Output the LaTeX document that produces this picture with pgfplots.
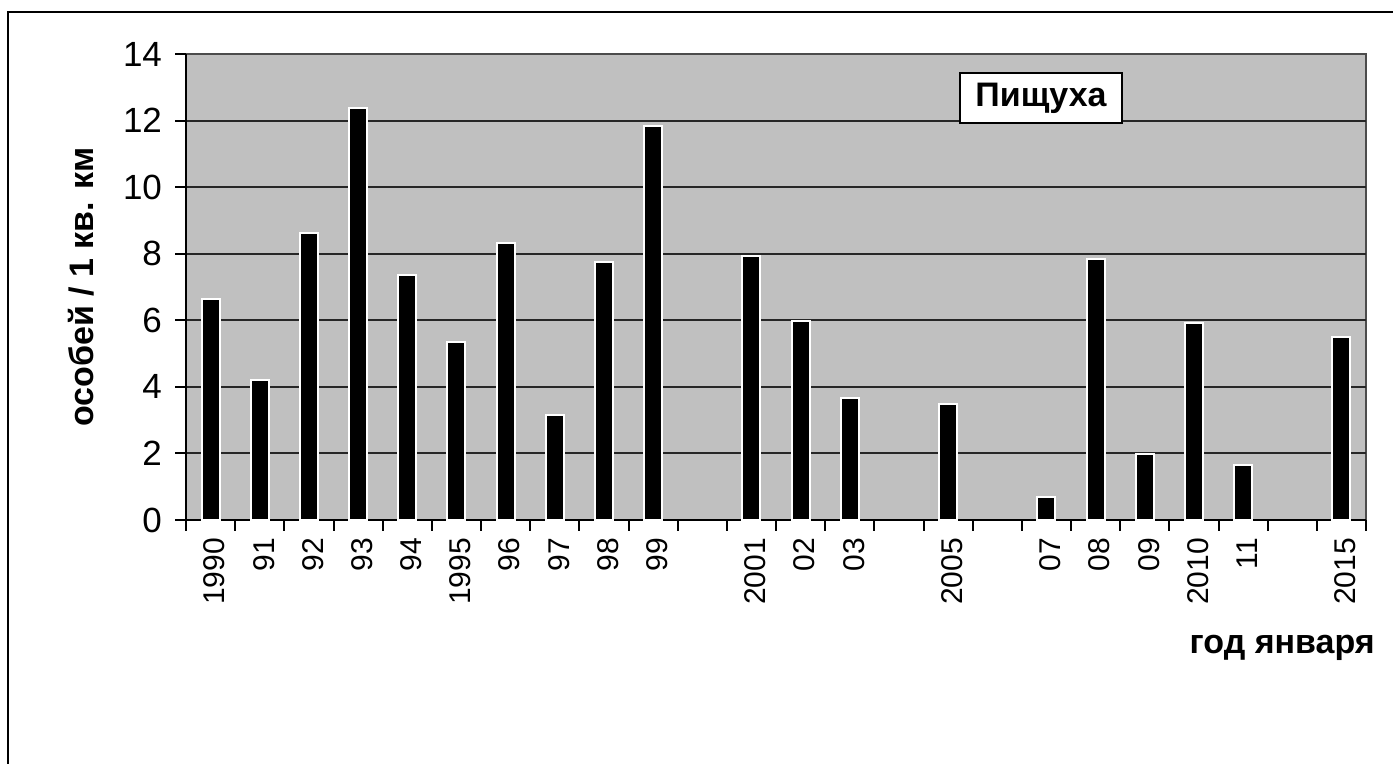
\documentclass[border=0pt]{standalone}
\usepackage{fontspec}
\setmainfont{Liberation Sans}
\usepackage{pgfplots}
\pgfplotsset{compat=1.18}
\definecolor{plotbg}{HTML}{C0C0C0}
\begin{document}
\begin{tikzpicture}[x=1pt,y=1pt]
\useasboundingbox (0,0) rectangle (696.5,382);
\draw[line width=1pt] (4,0) -- (4,376) -- (697,376);
\begin{axis}[
  at={(93pt,122pt)}, anchor=south west,
  scale only axis, width=590pt, height=233pt,
  xmin=-0.5, xmax=23.5, ymin=0, ymax=14,
  axis background/.style={fill=plotbg, draw=gray!60!black, line width=1pt},
  axis x line*=bottom, axis y line*=left,
  axis line style={line width=1pt, black},
  tick style={line width=1pt, black},
  tick align=outside, major tick length=5.5pt,
  ytick={0,2,4,6,8,10,12}, extra y ticks={14},
  extra y tick style={grid=none},
  ymajorgrids, major grid style={line width=1pt, black!85},
  /pgf/number format/assume math mode=true,
  yticklabel style={font=\fontsize{17.5}{17.5}\selectfont, xshift=-3pt},
  xtick={-0.5,0.5,...,23.5}, xticklabels={},
  extra x ticks={0,1,2,3,4,5,6,7,8,9,11,12,13,15,17,18,19,20,21,23},
  extra x tick labels={1990,91,92,93,94,1995,96,97,98,99,2001,02,03,2005,07,08,09,2010,11,2015},
  extra x tick style={tick style={draw=none}, xticklabel style={rotate=90, anchor=east, yshift=-2pt, font=\fontsize{15}{15}\selectfont}},
  xlabel={год января},
  xlabel style={at={(axis description cs:0.929,-0.275)}, anchor=center, font=\bfseries\fontsize{17}{17}\selectfont},
  ylabel={особей / 1 кв. км},
  ylabel style={at={(axis description cs:-0.089,0.5)}, anchor=center, font=\bfseries\fontsize{17}{17}\selectfont},
  clip=false,
]
\addplot[ybar, bar width=9pt, fill=black, draw=white, line width=1pt] coordinates {
 (0,6.65) (1,4.2) (2,8.62) (3,12.38) (4,7.36) (5,5.35) (6,8.32) (7,3.15) (8,7.75) (9,11.83)
 (11,7.93) (12,5.98) (13,3.66) (15,3.48) (17,0.69) (18,7.84) (19,1.98) (20,5.92) (21,1.65) (23,5.5)
};
\node[draw=black, fill=white, line width=0.8pt, minimum width=81pt, minimum height=25pt, inner sep=0pt, font=\bfseries\fontsize{17}{17}\selectfont] at (axis cs:16.89,12.68) {Пищуха};
\end{axis}
\end{tikzpicture}
\end{document}
